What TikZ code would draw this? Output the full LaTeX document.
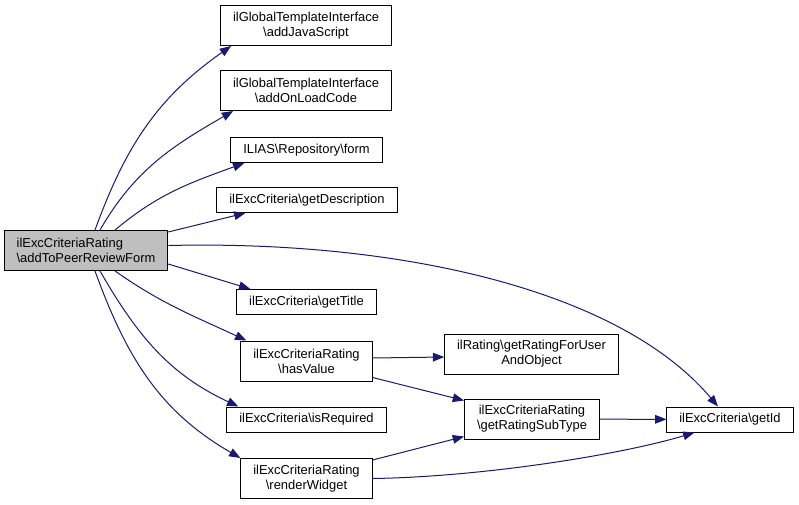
\documentclass[tikz,border=0pt]{standalone}
\usepackage{fontspec}
\setmainfont{Liberation Sans}
\usetikzlibrary{arrows.meta,calc}
\definecolor{edgeblue}{HTML}{191970}
\definecolor{rootgray}{HTML}{BFBFBF}

\begin{document}
\begin{tikzpicture}[x=0.75pt,y=0.75pt,>={Triangle[length=8.5pt,width=6.5pt]},
  box node/.style={draw=black,fill=white,line width=0.75pt,inner xsep=9.3pt,inner ysep=2pt,
    minimum height=18.75pt,align=center,font=\fontsize{9.7}{11.25}\selectfont},
  two line/.style={minimum height=30pt},
  call/.style={->,draw=edgeblue,line width=0.75pt}]

  \useasboundingbox (0,0) rectangle (799,-504);

  \node[box node,two line,fill=rootgray,align=left] (main) at (86,-250.5) {ilExcCriteriaRating\\\textbackslash addToPeerReviewForm};
  \node[box node,two line] (js) at (306,-25.5) {ilGlobalTemplateInterface\\\textbackslash addJavaScript};
  \node[box node,two line] (onload) at (306,-90.5) {ilGlobalTemplateInterface\\\textbackslash addOnLoadCode};
  \node[box node] (form) at (306.5,-150) {ILIAS\textbackslash Repository\textbackslash form};
  \node[box node] (desc) at (307,-200) {ilExcCriteria\textbackslash getDescription};
  \node[box node] (title) at (306.5,-302) {ilExcCriteria\textbackslash getTitle};
  \node[box node,two line] (hasvalue) at (306.5,-361) {ilExcCriteriaRating\\\textbackslash hasValue};
  \node[box node] (isreq) at (306.5,-419.5) {ilExcCriteria\textbackslash isRequired};
  \node[box node,two line] (render) at (306.5,-478.5) {ilExcCriteriaRating\\\textbackslash renderWidget};
  \node[box node,two line] (rfu) at (531.5,-354) {ilRating\textbackslash getRatingForUser\\AndObject};
  \node[box node,two line] (subtype) at (532,-419) {ilExcCriteriaRating\\\textbackslash getRatingSubType};
  \node[box node] (getid) at (730,-419.5) {ilExcCriteria\textbackslash getId};

  % calls from addToPeerReviewForm
  \draw[call] ($(main.north)+(9,0)$) to[out=70,in=215] ($(js.south west)+(11,0)$);
  \draw[call] ($(main.north)+(14,0)$) to[out=60,in=210] ($(onload.south west)+(13,0)$);
  \draw[call] ($(main.north)+(29,0)$) to[out=40,in=200] ($(form.south west)+(14,0)$);
  \draw[call] ($(main.north east)+(0,-2)$) -- ($(desc.south west)+(29,0)$);
  \draw[call] ($(main.east)+(0,5)$) .. controls (400,-240) and (620,-290) .. ($(getid.north)+(-12,0)$);
  \draw[call] ($(main.south east)+(0,7)$) -- ($(title.north west)+(14,0)$);
  \draw[call] ($(main.south)+(29,0)$) to[out=-35,in=155] ($(hasvalue.north west)+(6,0)$);
  \draw[call] ($(main.south)+(14,0)$) to[out=-60,in=155] ($(isreq.north west)+(12,0)$);
  \draw[call] ($(main.south)+(9,0)$) to[out=-70,in=150] (render.north west);

  % second level
  \draw[call] ($(hasvalue.east)+(0,3)$) -- ($(rfu.west)+(0,-3)$);
  \draw[call] ($(hasvalue.south east)+(0,4)$) -- ($(subtype.north west)+(0,-2)$);
  \draw[call] ($(render.north east)+(0,-2)$) -- ($(subtype.south west)+(0,3)$);
  \draw[call] (subtype) -- (getid);
  \draw[call] (render.east) .. controls (480,-477) and (620,-455) .. ($(getid.south west)+(28,0)$);

\end{tikzpicture}
\end{document}
